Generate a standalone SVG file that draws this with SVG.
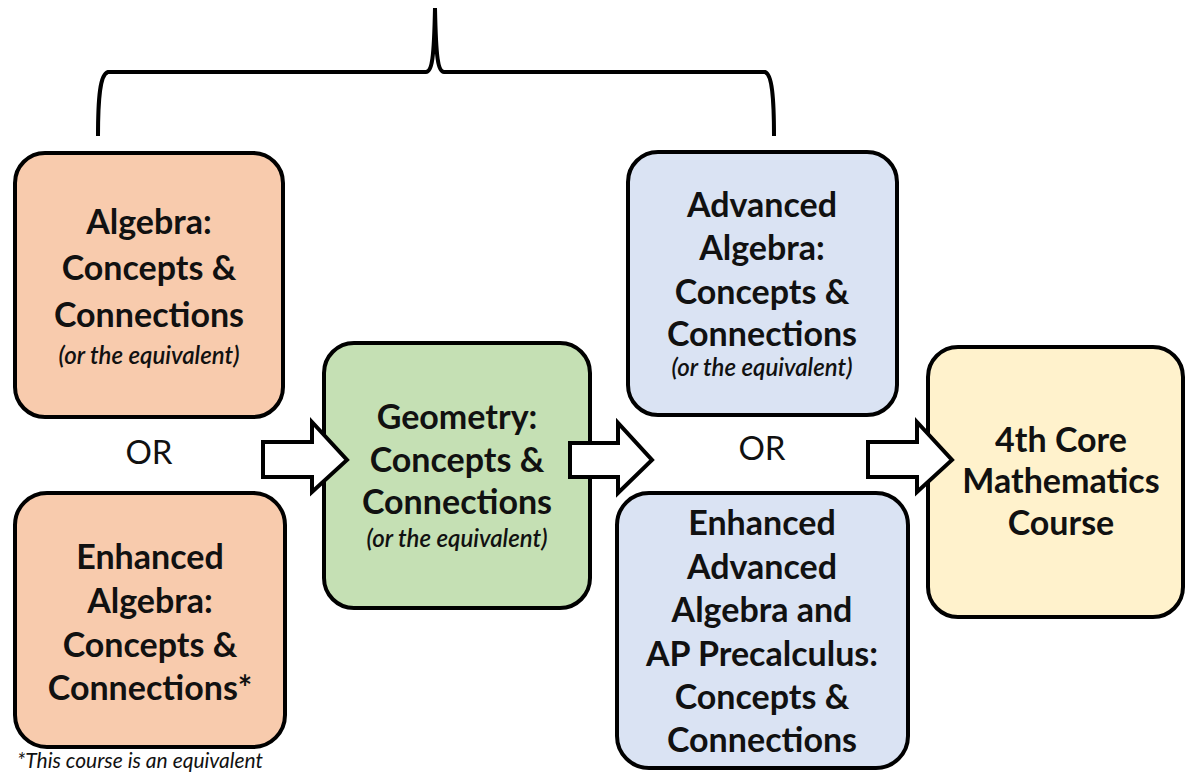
<svg xmlns="http://www.w3.org/2000/svg" width="1185" height="772" viewBox="0 0 1185 772">
<style>
.box{stroke:#000;stroke-width:4}
.orange{fill:#F8CBAD}.green{fill:#C5E0B4}.blue{fill:#DAE3F3}.yellow{fill:#FFF2CC}
.t{font-family:Lato,"Open Sans",sans-serif;font-weight:bold;font-size:34px;fill:#111;text-anchor:middle}
.i{font-family:Lato,"Open Sans",sans-serif;font-style:italic;font-weight:600;font-size:24px;fill:#111;text-anchor:middle}
.or{font-family:Lato,"Open Sans",sans-serif;font-size:33px;fill:#111;text-anchor:middle}
.arr{fill:#fff;stroke:#000;stroke-width:4;stroke-linejoin:miter}
.brace{fill:none;stroke:#000;stroke-width:4}
</style>
<rect width="1185" height="772" fill="#fff"/>
<g id="algebra">
<rect class="box orange" x="15" y="153" width="268" height="264" rx="30"/>
<text class="t" x="149" y="234">Algebra:</text>
<text class="t" x="149" y="280">Concepts &amp;</text>
<text class="t" x="149" y="327">Connections</text>
<text class="i" x="149" y="364">(or the equivalent)</text>
</g>
<text class="or" x="149" y="464">OR</text>
<g id="enhanced-algebra">
<rect class="box orange" x="15" y="493" width="270" height="254" rx="32"/>
<text class="t" x="150" y="569">Enhanced</text>
<text class="t" x="150" y="613">Algebra:</text>
<text class="t" x="150" y="657">Concepts &amp;</text>
<text class="t" x="150" y="700">Connections*</text>
</g>
<text style="font-family:Lato,'Open Sans',sans-serif;font-style:italic;font-size:21px;fill:#111" x="17" y="768">*This course is an equivalent</text>
<g id="geometry">
<rect class="box green" x="324" y="343" width="266" height="265" rx="30"/>
<text class="t" x="457" y="429">Geometry:</text>
<text class="t" x="457" y="472">Concepts &amp;</text>
<text class="t" x="457" y="514">Connections</text>
<text class="i" x="457" y="547">(or the equivalent)</text>
</g>
<g id="advanced-algebra">
<rect class="box blue" x="628" y="152" width="269" height="263" rx="30"/>
<text class="t" x="762" y="217">Advanced</text>
<text class="t" x="762" y="260">Algebra:</text>
<text class="t" x="762" y="304">Concepts &amp;</text>
<text class="t" x="762" y="346">Connections</text>
<text class="i" x="762" y="376">(or the equivalent)</text>
</g>
<text class="or" x="762" y="460">OR</text>
<g id="enhanced-advanced">
<rect class="box blue" x="617" y="493" width="291" height="275" rx="32"/>
<text class="t" x="762" y="535">Enhanced</text>
<text class="t" x="762" y="579">Advanced</text>
<text class="t" x="762" y="622">Algebra and</text>
<text class="t" x="762" y="666">AP Precalculus:</text>
<text class="t" x="762" y="709">Concepts &amp;</text>
<text class="t" x="762" y="752">Connections</text>
</g>
<g id="fourth-core">
<rect class="box yellow" x="928" y="347" width="255" height="270" rx="30"/>
<text class="t" x="1061" y="452">4th Core</text>
<text class="t" x="1061" y="493">Mathematics</text>
<text class="t" x="1061" y="535">Course</text>
</g>
<g id="connectors">
<path class="brace" d="M98,136 C98,98 100,74 108,72 L426,72 C432,72 434,58 435,8 C436,58 438,72 444,72 L765,72 C772,74 774,98 774,136"/>
<path class="arr" d="M263,442 L312,442 L312,422 L347,460 L312,492 L312,477 L263,477 Z"/>
<path class="arr" d="M570,443 L618,443 L618,423 L652,460 L618,493 L618,477 L570,477 Z"/>
<path class="arr" d="M868,442 L917,442 L917,422 L952,460 L917,492 L917,477 L868,477 Z"/>
</g>
</svg>
